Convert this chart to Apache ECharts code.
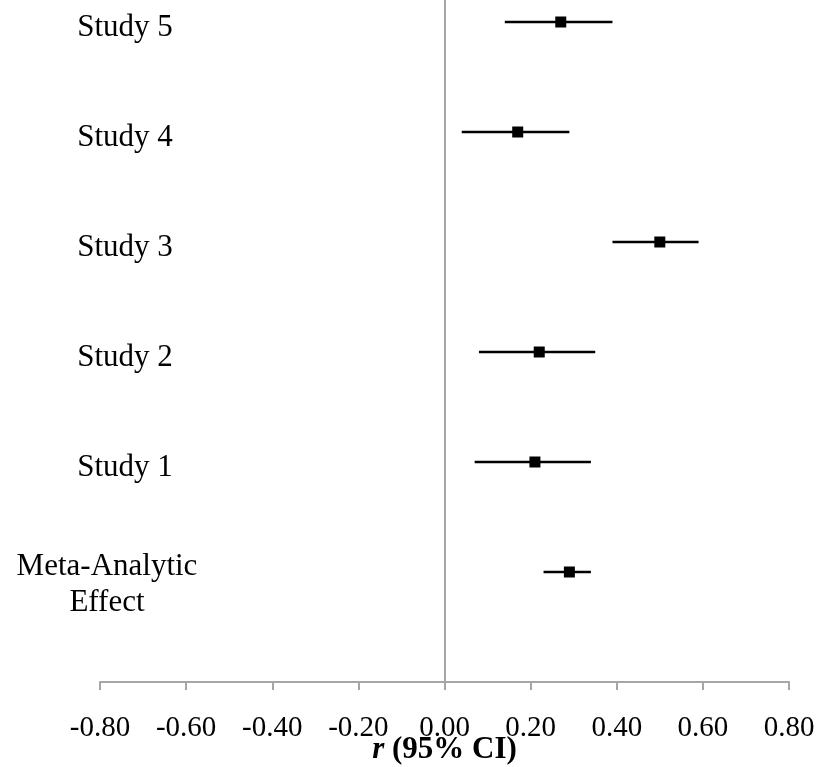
<!DOCTYPE html>
<html>
<head>
<meta charset="utf-8">
<script src="https://cdn.jsdelivr.net/npm/echarts@6/dist/echarts.min.js"></script>
<style>
html,body{margin:0;padding:0;background:#fff;}
#chart{width:820px;height:767px;}
</style>
</head>
<body>
<div id="chart"></div>
<script>
// Data (bottom to top)
var categories = ['Meta-Analytic\nEffect', 'Study 1', 'Study 2', 'Study 3', 'Study 4', 'Study 5'];
var estimates = [0.29, 0.21, 0.22, 0.50, 0.17, 0.27];
var lowerCI   = [0.23, 0.07, 0.08, 0.39, 0.04, 0.14];
var upperCI   = [0.34, 0.34, 0.35, 0.59, 0.29, 0.39];
var xTicks = [-0.8, -0.6, -0.4, -0.2, 0, 0.2, 0.4, 0.6, 0.8];

var FONT = '"Liberation Serif", "Times New Roman", serif';

var ciData = categories.map(function (c, i) { return [lowerCI[i], upperCI[i], i + 1]; });
var ptData = categories.map(function (c, i) { return [estimates[i], i + 1]; });

var chart = echarts.init(document.getElementById('chart'));
chart.setOption({
  animation: false,
  backgroundColor: '#fff',
  grid: { left: 100, right: 31, top: 0, bottom: 85, containLabel: false, outerBoundsMode: 'none' },
  xAxis: {
    type: 'value',
    min: xTicks[0],
    max: xTicks[xTicks.length - 1],
    interval: 0.2,
    axisLine: { show: true, onZero: false, lineStyle: { color: '#a6a6a6', width: 2 } },
    axisTick: { show: true, length: 8, lineStyle: { color: '#a6a6a6', width: 2 } },
    splitLine: { show: false },
    axisLabel: {
      margin: 32,
      fontFamily: FONT,
      fontSize: 29,
      color: '#000',
      formatter: function (v) { return v.toFixed(2); }
    },
    name: '{i|r} (95% CI)',
    nameLocation: 'middle',
    nameGap: 52,
    nameMoveOverlap: false,
    nameTextStyle: {
      fontFamily: FONT,
      fontSize: 31,
      fontWeight: 'bold',
      color: '#000',
      rich: {
        i: { fontFamily: FONT, fontSize: 31, fontWeight: 'bold', fontStyle: 'italic', color: '#000' }
      }
    }
  },
  yAxis: {
    type: 'value',
    min: 0,
    max: 6.2,
    interval: 1,
    axisLine: { show: false },
    axisTick: { show: false },
    splitLine: { show: false },
    axisLabel: {
      margin: -25,
      align: 'center',
      color: '#000',
      fontFamily: FONT,
      fontSize: 31,
      padding: [12, 0, 0, 0],
      formatter: function (v) {
        var idx = Math.round(v) - 1;
        if (Math.abs(v - Math.round(v)) > 1e-6 || idx < 0 || idx >= categories.length) return '';
        var name = categories[idx];
        if (name.indexOf('\n') >= 0) {
          var parts = name.split('\n');
          return '{sp| }\n{m|' + parts[0] + '}\n{m|' + parts[1] + '}';
        }
        return '{s|' + name + '}';
      },
      rich: {
        s: { fontFamily: FONT, fontSize: 31, color: '#000' },
        sp: { fontFamily: FONT, fontSize: 4, lineHeight: 14, color: '#000' },
        m: { fontFamily: FONT, fontSize: 31, color: '#000', lineHeight: 36, padding: [0, 36, 0, 0] }
      }
    }
  },
  series: [
    {
      type: 'custom',
      name: 'CI',
      data: ciData,
      encode: { x: [0, 1], y: 2 },
      renderItem: function (params, api) {
        var p1 = api.coord([api.value(0), api.value(2)]);
        var p2 = api.coord([api.value(1), api.value(2)]);
        return {
          type: 'line',
          shape: { x1: p1[0], y1: p1[1], x2: p2[0], y2: p2[1] },
          style: { stroke: '#000', lineWidth: 2.5 }
        };
      },
      markLine: {
        silent: true,
        symbol: 'none',
        label: { show: false },
        lineStyle: { color: '#a6a6a6', width: 2, type: 'solid' },
        data: [{ xAxis: 0 }]
      },
      z: 2
    },
    {
      type: 'scatter',
      name: 'r',
      data: ptData,
      symbol: 'rect',
      symbolSize: 11,
      itemStyle: { color: '#000', opacity: 1 },
      z: 3
    }
  ]
});
</script>
</body>
</html>
